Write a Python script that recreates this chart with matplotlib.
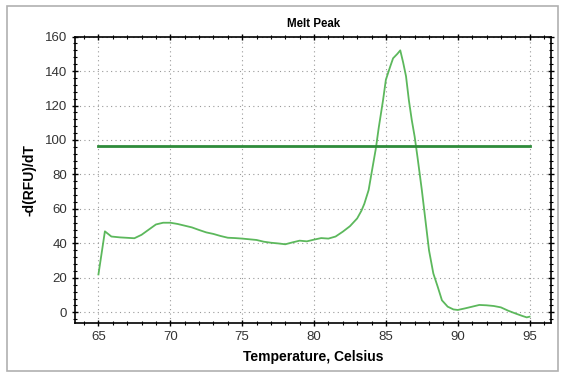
import matplotlib
matplotlib.use("Agg")
import matplotlib.pyplot as plt
from matplotlib.patches import Rectangle
from matplotlib.ticker import MultipleLocator

# melt curve derivative
temp = [65.0, 65.45, 65.9, 66.5, 67.5, 68.0, 68.5, 69.0, 69.5, 70.0, 70.5, 71.0,
        71.5, 72.0, 72.5, 73.0, 73.5, 74.0, 74.5, 75.0, 75.5, 76.0, 76.5, 77.0,
        77.5, 78.0, 78.5, 79.0, 79.5, 80.0, 80.5, 81.0, 81.5, 82.0, 82.5, 83.0,
        83.3, 83.5, 83.8, 84.0, 84.3, 84.5, 84.8, 85.0, 85.3, 85.5, 85.8, 86.0,
        86.2, 86.4, 86.6, 86.8, 87.0, 87.2, 87.5, 87.8, 88.0, 88.3, 88.6, 88.9,
        89.3, 89.7, 90.0, 90.5, 91.0, 91.5, 92.0, 92.5, 93.0, 93.5, 94.0, 94.5,
        94.8, 95.0]
dfdt = [22, 47, 44, 43.5, 43, 45, 48, 51, 52, 52, 51.3, 50.3,
        49.3, 47.8, 46.4, 45.5, 44.3, 43.3, 43.1, 42.8, 42.4, 42, 41, 40.4,
        40, 39.5, 40.6, 41.6, 41.2, 42.2, 43.1, 42.8, 44, 46.8, 50, 54.5,
        59, 63, 71, 80.7, 95, 107, 123, 135, 142.6, 147.4, 150, 152,
        145, 137, 123, 111.6, 102, 90, 71, 50, 36, 22.6, 15, 7,
        3.3, 1.7, 1.4, 2.3, 3.3, 4.3, 4.1, 3.7, 2.9, 1, -0.6, -2.1,
        -2.9, -2.5]

threshold = 96.7
thr_x = [65, 95]

plt.rcParams["font.family"] = ["Liberation Sans", "DejaVu Sans"]

fig = plt.figure(figsize=(5.63, 3.81), dpi=100)
ax = fig.add_axes([0.134, 0.153, 0.845, 0.751])

ax.plot(temp, dfdt, color="#5cb85c", lw=1.3)
ax.plot(thr_x, [threshold, threshold], color="#2e8b3a", lw=2)

ax.set_xlim(63.4, 96.5)
ax.set_ylim(-6, 160)
ax.xaxis.set_major_locator(MultipleLocator(5))
ax.xaxis.set_minor_locator(MultipleLocator(1))
ax.yaxis.set_major_locator(MultipleLocator(20))
ax.yaxis.set_minor_locator(MultipleLocator(4))
ax.tick_params(which="both", direction="inout", top=True, right=True,
               labelsize=9.5, labelcolor="#333333")
ax.tick_params(which="major", length=5, width=1)
ax.tick_params(which="minor", length=3, width=0.8)
ax.grid(True, which="major", linestyle=(0, (1, 3)), color="#999999", lw=0.8)
for s in ax.spines.values():
    s.set_linewidth(1.2)

ax.set_title("Melt Peak", fontsize=8.3, fontweight="bold", pad=7)
ax.set_xlabel("Temperature, Celsius", fontsize=10, fontweight="bold", labelpad=5)
ax.set_ylabel("-d(RFU)/dT", fontsize=10, fontweight="bold", labelpad=6)

fig.patches.append(Rectangle((6.5 / 563, 1 - 370.7 / 381), 551.5 / 563, 364.7 / 381,
                             transform=fig.transFigure, fill=False,
                             edgecolor="#b0b0b0", lw=1.2))

fig.savefig("out.png", dpi=100)
